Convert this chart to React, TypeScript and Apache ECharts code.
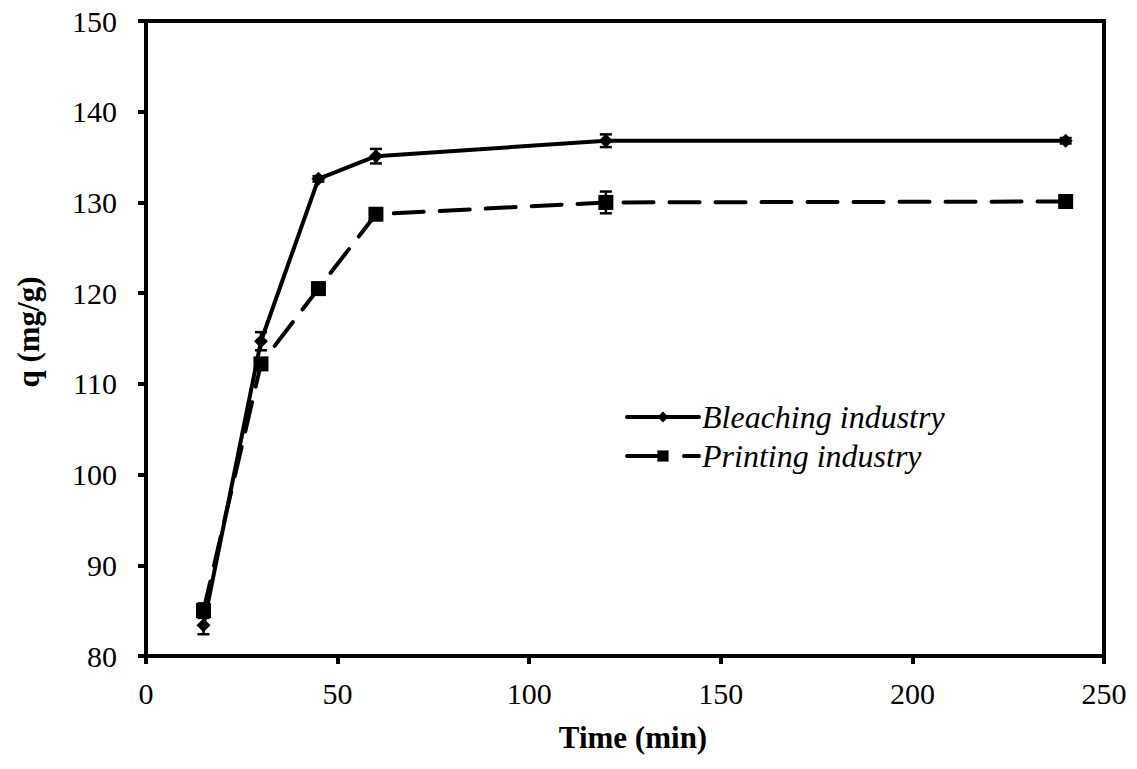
import React, { useEffect, useRef } from "react";
import * as echarts from "echarts";

const times = [15, 30, 45, 60, 120, 240];
const bleaching = [83.4, 114.7, 132.6, 135.1, 136.8, 136.8];
const bleachingErr = [1.0, 1.0, 0.3, 0.8, 0.7, 0.3];
const printing = [85.0, 112.2, 120.5, 128.7, 130.0, 130.1];
const printingErr = [0.8, 0.6, 0.6, 0.6, 1.2, 0.3];
const xTicks = [0, 50, 100, 150, 200, 250];
const yTicks = [80, 90, 100, 110, 120, 130, 140, 150];
const xTitle = "Time (min)";
const yTitle = "q (mg/g)";

const FONT = "'Liberation Serif', 'Times New Roman', serif";

function errorSeries(vals: number[], errs: number[]) {
  const data = times.map((t, i) => [t, vals[i] - errs[i], vals[i] + errs[i]]);
  return {
    type: "custom",
    silent: true,
    z: 3,
    data,
    renderItem: (params: any, api: any) => {
      const x = api.value(0);
      const lo = api.coord([x, api.value(1)]);
      const hi = api.coord([x, api.value(2)]);
      const w = 6;
      const style = { stroke: "#000", lineWidth: 2.5 };
      return {
        type: "group",
        children: [
          { type: "line", shape: { x1: lo[0], y1: lo[1], x2: hi[0], y2: hi[1] }, style },
          { type: "line", shape: { x1: lo[0] - w, y1: lo[1], x2: lo[0] + w, y2: lo[1] }, style },
          { type: "line", shape: { x1: hi[0] - w, y1: hi[1], x2: hi[0] + w, y2: hi[1] }, style },
        ],
      };
    },
  };
}

export default function App() {
  const ref = useRef<HTMLDivElement>(null);
  useEffect(() => {
    const chart = echarts.init(ref.current!, null, { renderer: "svg" });
    chart.setOption({
      animation: false,
      backgroundColor: "#fff",
      textStyle: { fontFamily: FONT },
      grid: {
        left: 146,
        right: 33,
        top: 21,
        bottom: 113,
        show: true,
        borderColor: "#000",
        borderWidth: 4,
      },
      graphic: [
        {
          type: "text",
          x: 633,
          y: 737,
          style: {
            text: xTitle,
            fontFamily: FONT,
            fontSize: 31,
            fontWeight: "bold",
            fill: "#000",
            align: "center",
            verticalAlign: "middle",
          },
        },
        {
          type: "text",
          x: 28,
          y: 332,
          rotation: Math.PI / 2,
          style: {
            text: yTitle,
            fontFamily: FONT,
            fontSize: 31,
            fontWeight: "bold",
            fill: "#000",
            align: "center",
            verticalAlign: "middle",
          },
        },
      ],
      legend: {
        left: 620,
        top: 396,
        orient: "vertical",
        itemWidth: 72,
        itemHeight: 14,
        itemGap: 7,
        data: [
          { name: "Bleaching industry", lineStyle: { width: 4, color: "#000" } },
          { name: "Printing industry", lineStyle: { type: [30, 27], width: 4, color: "#000" } },
        ],
        textStyle: {
          fontFamily: FONT,
          fontStyle: "italic",
          fontSize: 32,
          color: "#000",
          padding: [0, 0, 0, -2],
        },
      },
      xAxis: {
        type: "value",
        min: 0,
        max: 250,
        interval: 50,
        axisLine: { show: true, lineStyle: { color: "#000", width: 4 } },
        axisTick: { show: true, inside: false, length: 8, lineStyle: { color: "#000", width: 4 } },
        axisLabel: {
          fontFamily: FONT,
          fontSize: 30,
          color: "#000",
          margin: 22,
          formatter: (v: number) => (xTicks.includes(v) ? String(v) : ""),
        },
        splitLine: { show: false },
      },
      yAxis: {
        type: "value",
        min: 80,
        max: 150,
        interval: 10,
        axisLine: { show: true, lineStyle: { color: "#000", width: 4 } },
        axisTick: { show: true, inside: false, length: 8, lineStyle: { color: "#000", width: 4 } },
        axisLabel: {
          fontFamily: FONT,
          fontSize: 30,
          color: "#000",
          margin: 29,
          formatter: (v: number) => (yTicks.includes(v) ? String(v) : ""),
        },
        splitLine: { show: false },
      },
      series: [
        {
          name: "Bleaching industry",
          type: "line",
          data: times.map((t, i) => [t, bleaching[i]]),
          symbol: "diamond",
          symbolSize: 14,
          color: "#000",
          itemStyle: { color: "#000" },
          lineStyle: { color: "#000", width: 4, cap: "round" },
          z: 4,
        },
        {
          name: "Printing industry",
          type: "line",
          data: times.map((t, i) => [t, printing[i]]),
          symbol: "rect",
          symbolSize: 15,
          color: "#000",
          itemStyle: { color: "#000" },
          lineStyle: { color: "#000", width: 4, type: [30, 16], cap: "round" },
          z: 4,
        },
        errorSeries(bleaching, bleachingErr),
        errorSeries(printing, printingErr),
      ],
    });
    return () => chart.dispose();
  }, []);
  return <div ref={ref} style={{ width: 1137, height: 769, margin: -8 }} />;
}
